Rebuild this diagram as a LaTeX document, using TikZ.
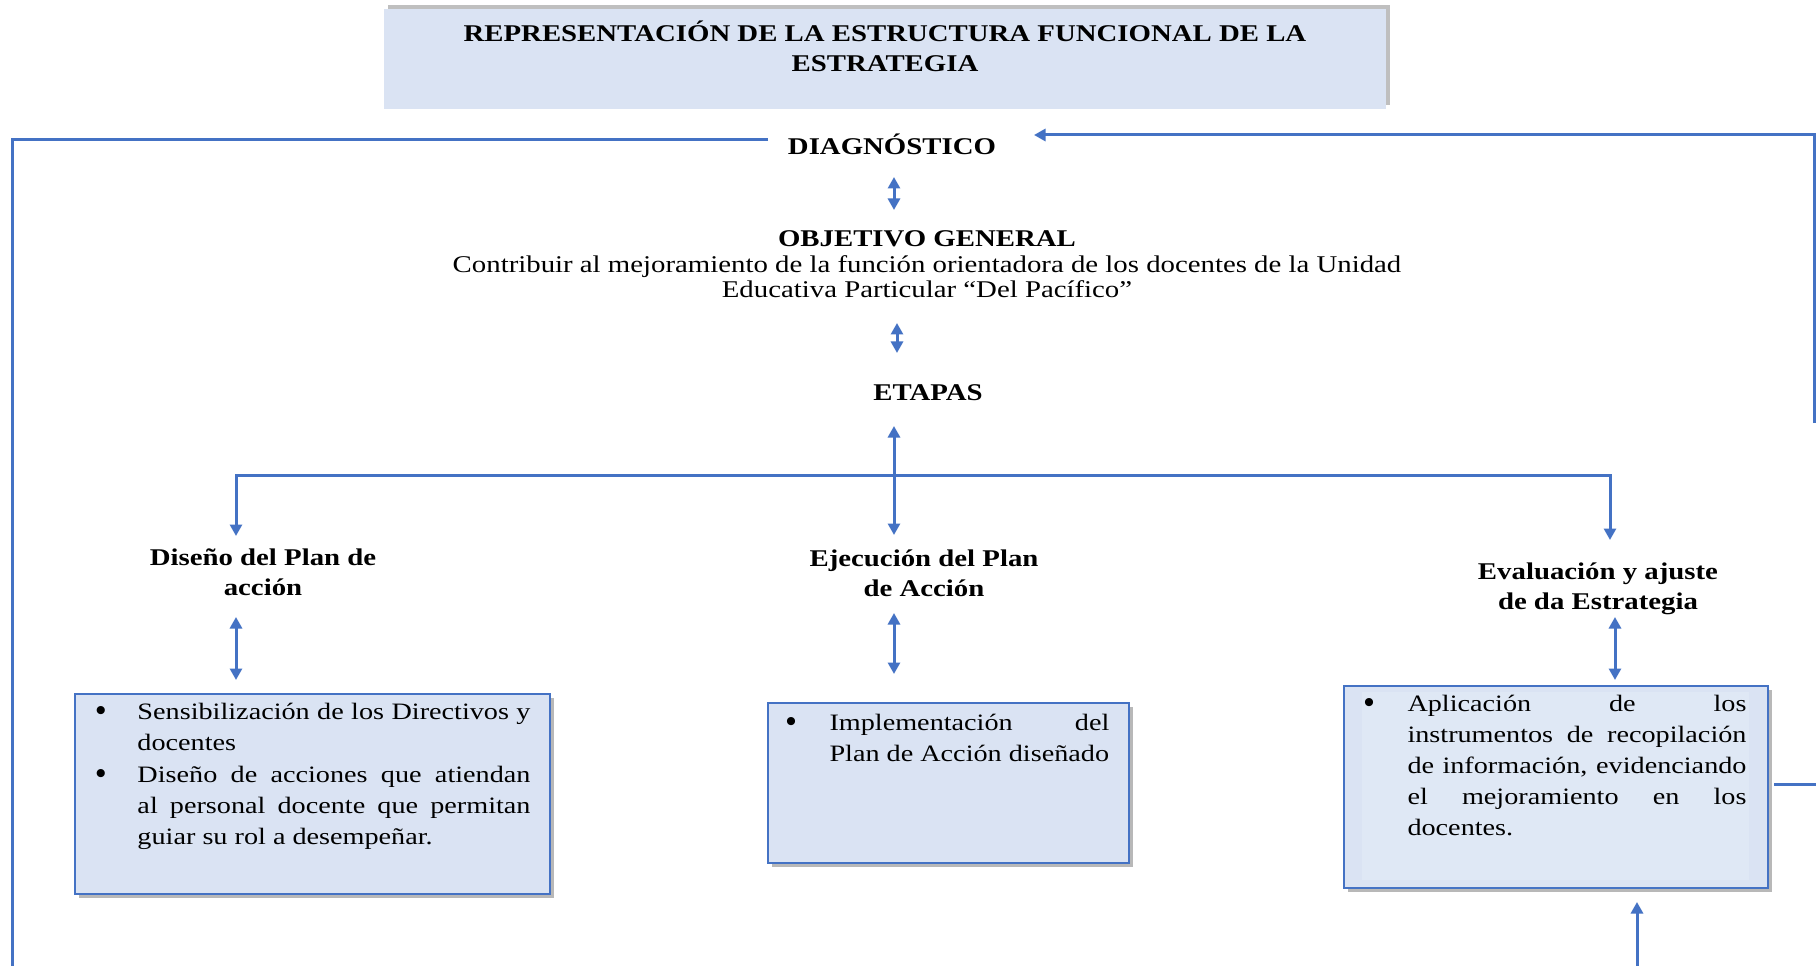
\documentclass[tikz,border=0pt]{standalone}
\usepackage{fontspec}
\setmainfont{Liberation Serif}
\usepackage{graphicx}
\usetikzlibrary{arrows.meta,shadows}
\definecolor{lblue}{HTML}{4472C4}
\definecolor{bfill}{HTML}{DAE3F3}
\definecolor{ifill}{HTML}{DFE8F5}
\newcommand\hs[1]{\scalebox{1.2}[1]{#1}}
\newcommand\jl[1]{\makebox[\linewidth][s]{#1}\\}
\begin{document}
\begin{tikzpicture}[x=0.4pt,y=-0.4pt,
  conn/.style={draw=lblue, line width=1.2pt},
  arrowone/.style={-{Triangle[length=4.6pt,width=4.8pt]}},
  arrowtwo/.style={{Triangle[length=4.6pt,width=4.8pt]}-{Triangle[length=4.6pt,width=4.8pt]}},
  box/.style={draw=lblue, line width=0.8pt, fill=bfill, inner sep=0pt,
    drop shadow={shadow xshift=1.6pt, shadow yshift=-1.6pt, opacity=0.5, fill=black!55}},
  titlebox/.style={fill=bfill, inner sep=0pt,
    drop shadow={shadow xshift=1.6pt, shadow yshift=1.6pt, opacity=0.45, fill=black!55}},
  head/.style={inner sep=0pt, font=\fontsize{9.6}{12}\selectfont\bfseries, align=center},
  btxt/.style={inner sep=0pt, font=\fontsize{9.4}{12.4}\selectfont},
  bul/.style={inner sep=0pt, font=\fontsize{12}{12}\selectfont\bfseries}
]
\fill[white] (0,0) rectangle (1816,966);
\path[use as bounding box] (0,0) rectangle (1816,966);

% title
\node[titlebox, minimum width=400.8pt, minimum height=40pt] (tbox) at (885,59) {};
\node[head] (title) at (885,51) {\hs{\begin{tabular}{@{}c@{}}REPRESENTACIÓN DE LA ESTRUCTURA FUNCIONAL DE LA\\ESTRATEGIA\end{tabular}}};

% main column
\node[head] (diag) at (892,144) {\hs{DIAGNÓSTICO}};
\node[inner sep=0pt] (obj) at (927,267) {\hs{\fontsize{9.6}{10.2}\selectfont\begin{tabular}{@{}c@{}}\textbf{OBJETIVO GENERAL}\\Contribuir al mejoramiento de la función orientadora de los docentes de la Unidad\\Educativa Particular “Del Pacífico”\end{tabular}}};
\node[head] (etapas) at (928,393) {\hs{ETAPAS}};

\node[head] (dis) at (263,574) {\hs{\begin{tabular}{@{}c@{}}Diseño del Plan de\\acción\end{tabular}}};
\node[head] (eje) at (924,575) {\hs{\begin{tabular}{@{}c@{}}Ejecución del Plan\\de Acción\end{tabular}}};
\node[head] (eva) at (1598,588) {\hs{\begin{tabular}{@{}c@{}}Evaluación y ajuste\\de da Estrategia\end{tabular}}};

% boxes
\node[box, minimum width=190pt, minimum height=80pt] (disbox) at (312.5,794) {};
\node[box, minimum width=144.4pt, minimum height=64pt] (ejebox) at (948.5,783) {};
\node[box, minimum width=169.6pt, minimum height=80.8pt] (evabox) at (1556,787) {};
\fill[ifill] (1362,692) rectangle (1749,880);

% box texts
\node[bul, anchor=base] (b1) at (101,720) {•};
\node[btxt, anchor=base west] (t1) at (137,719) {\hs{\parbox[t]{131pt}{\jl{Sensibilización de los Directivos y}docentes}}};
\node[bul, anchor=base] (b2) at (101,783) {•};
\node[btxt, anchor=base west] (t2) at (137,782) {\hs{\parbox[t]{131pt}{\jl{Diseño de acciones que atiendan}\jl{al personal docente que permitan}guiar su rol a desempeñar.}}};
\node[bul, anchor=base] (b3) at (791,731) {•};
\node[btxt, anchor=base west] (t3) at (829,730) {\hs{\parbox[t]{93.3pt}{\jl{Implementación del}Plan de Acción diseñado}}};
\node[bul, anchor=base] (b4) at (1369,712) {•};
\node[btxt, anchor=base west] (t4) at (1407,711) {\hs{\parbox[t]{113pt}{\jl{Aplicación de los}\jl{instrumentos de recopilación}\jl{de información, evidenciando}\jl{el mejoramiento en los}docentes.}}};

% coordinates
\coordinate (dL) at (768,140);
\coordinate (cL) at (12,140);
\coordinate (bL) at (12,966);
\coordinate (dR) at (1034,135);
\coordinate (rTop) at (1814,135);
\coordinate (rLow) at (1814,423);
\coordinate (a1t) at (894,177);
\coordinate (a1b) at (894,210);
\coordinate (a2t) at (897,323);
\coordinate (a2b) at (897,353);
\coordinate (a3t) at (894,426);
\coordinate (a3b) at (894,535);
\coordinate (barL) at (236,475);
\coordinate (barR) at (1610,475);
\coordinate (dDis) at (236,536);
\coordinate (dEva) at (1610,540);
\coordinate (l1t) at (236,617);
\coordinate (l1b) at (236,680);
\coordinate (l2t) at (894,613);
\coordinate (l2b) at (894,674);
\coordinate (l3t) at (1615,617);
\coordinate (l3b) at (1615,680);
\coordinate (botS) at (1637,966);
\coordinate (botE) at (1637,902);
\coordinate (stubA) at (1774,784);
\coordinate (stubB) at (1816,784);

% connectors
\draw[conn] (dL) -- (cL) -- (bL);
\draw[conn, arrowone] (rLow) -- (rTop) -- (dR);
\draw[conn, arrowtwo] (a1t) -- (a1b);
\draw[conn, arrowtwo] (a2t) -- (a2b);
\draw[conn, arrowtwo] (a3t) -- (a3b);
\draw[conn, arrowtwo] (dDis) -- (barL) -- (barR) -- (dEva);
\draw[conn, arrowtwo] (l1t) -- (l1b);
\draw[conn, arrowtwo] (l2t) -- (l2b);
\draw[conn, arrowtwo] (l3t) -- (l3b);
\draw[conn, arrowone] (botS) -- (botE);
\draw[conn] (stubA) -- (stubB);
\end{tikzpicture}
\end{document}
